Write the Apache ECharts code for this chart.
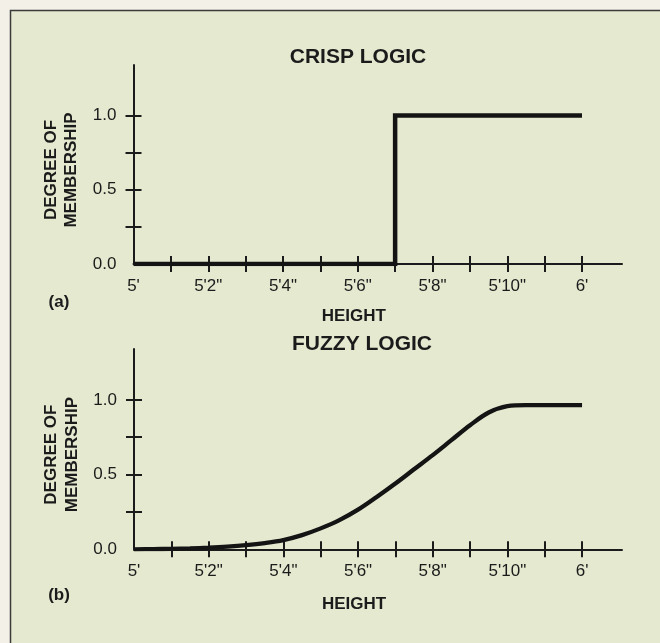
<!DOCTYPE html>
<html>
<head>
<meta charset="utf-8">
<title>Crisp vs. fuzzy membership</title>
<script src="https://cdn.jsdelivr.net/npm/echarts@6/dist/echarts.min.js"></script>
<style>
  html, body { margin: 0; padding: 0; background: #f3f0e7; }
  #chart { width: 660px; height: 643px; }
</style>
</head>
<body>
<div id="chart"></div>
<script>
// Height in inches (60 = 5 ft, 72 = 6 ft)
const heightTickValues = [61, 62, 63, 64, 65, 66, 67, 68, 69, 70, 71, 72];
const heightLabelValues = [60, 62, 64, 66, 68, 70, 72];
const heightLabels = ["5'", "5'2\"", "5'4\"", "5'6\"", "5'8\"", "5'10\"", "6'"];

// Degree of membership axis
const membershipTickValues = [0.25, 0.5, 0.75, 1.0];
const membershipLabelValues = [0, 0.5, 1.0];
const membershipLabels = ["0.0", "0.5", "1.0"];

// (a) crisp set "tall": jumps from 0 to 1 at 5'7"
const crispHeights = [60, 67, 72];
const crispValues = [0, 1, 1];

// (b) fuzzy set "tall": gradual S-shaped rise
const fuzzyHeights = [60, 60.5, 61, 61.5, 62, 62.5, 63, 63.5, 64, 64.5, 65, 65.5, 66,
                      66.5, 67, 67.5, 68, 68.5, 69, 69.5, 70, 70.5, 71, 71.5, 72];
const fuzzyValues = [0, 0.001, 0.003, 0.006, 0.011, 0.018, 0.028, 0.042, 0.062, 0.095, 0.14, 0.195, 0.265,
                     0.35, 0.44, 0.535, 0.63, 0.73, 0.83, 0.915, 0.958, 0.965, 0.965, 0.965, 0.965];

const INK = '#1b1b1b';
const FONT = '"Liberation Sans", Arial, Helvetica, sans-serif';
const X_MIN = 60, X_MAX = 73.07;
const Y_MIN = 0, Y_MAX = 1.34;

function heightLabel(v) {
  const i = heightLabelValues.indexOf(Math.round(v));
  return i >= 0 ? heightLabels[i] : '';
}
function membershipLabel(v) {
  const i = membershipLabelValues.findIndex(m => Math.abs(m - v) < 1e-6);
  return i >= 0 ? membershipLabels[i] : '';
}

// Each panel gets two x and two y axes: one carries line, outer ticks and labels,
// the other only inner ticks, so the ticks cross the axis lines.
function panelAxes(gridIndex, nameGapX) {
  const xMain = {
    type: 'value', gridIndex, position: 'bottom', min: X_MIN, max: X_MAX,
    axisLine: { show: true, onZero: false, lineStyle: { color: INK, width: 2 } },
    axisTick: { show: true, customValues: heightTickValues, length: 8, lineStyle: { color: INK, width: 2 } },
    axisLabel: { customValues: heightLabelValues, formatter: heightLabel, margin: 14,
                 color: INK, fontSize: 17, fontFamily: FONT },
    splitLine: { show: false },
    name: 'HEIGHT', nameLocation: 'middle', nameGap: nameGapX,
    nameTextStyle: { color: INK, fontSize: 17, fontWeight: 'bold', fontFamily: FONT, padding: [0, 48, 0, 0] }
  };
  const xInner = {
    type: 'value', gridIndex, position: 'bottom', min: X_MIN, max: X_MAX,
    axisLine: { show: false, onZero: false },
    axisTick: { show: true, inside: true, customValues: heightTickValues, length: 8, lineStyle: { color: INK, width: 2 } },
    axisLabel: { show: false },
    splitLine: { show: false }
  };
  const yMain = {
    type: 'value', gridIndex, position: 'left', min: Y_MIN, max: Y_MAX,
    axisLine: { show: true, onZero: false, lineStyle: { color: INK, width: 2 } },
    axisTick: { show: true, customValues: membershipTickValues, length: 8, lineStyle: { color: INK, width: 2 } },
    axisLabel: { customValues: membershipLabelValues, formatter: membershipLabel, margin: 17,
                 color: INK, fontSize: 17, fontFamily: FONT },
    splitLine: { show: false },
    name: 'DEGREE OF\nMEMBERSHIP', nameLocation: 'middle', nameRotate: 90, nameGap: 51,
    nameTextStyle: { color: INK, fontSize: 17, fontWeight: 'bold', fontFamily: FONT, lineHeight: 20.5, padding: [0, 11, 0, 0] }
  };
  const yInner = {
    type: 'value', gridIndex, position: 'left', min: Y_MIN, max: Y_MAX,
    axisLine: { show: false, onZero: false },
    axisTick: { show: true, inside: true, customValues: membershipTickValues, length: 8, lineStyle: { color: INK, width: 2 } },
    axisLabel: { show: false },
    splitLine: { show: false }
  };
  return { x: [xMain, xInner], y: [yMain, yInner] };
}

const crispAxes = panelAxes(0, 44);
const fuzzyAxes = panelAxes(1, 47);

const chart = echarts.init(document.getElementById('chart'), null, { renderer: 'canvas' });
chart.setOption({
  animation: false,
  backgroundColor: '#f3f0e7',
  graphic: [
    { type: 'rect', z: -10, shape: { x: 10.5, y: 10.5, width: 700, height: 700 },
      style: { fill: '#e4e9cf', stroke: '#3a3a38', lineWidth: 1.5 } },
    { type: 'text', x: 59, y: 302, style: { text: '(a)', fill: INK, font: 'bold 17px ' + FONT, align: 'center', verticalAlign: 'middle' } },
    { type: 'text', x: 59, y: 595, style: { text: '(b)', fill: INK, font: 'bold 17px ' + FONT, align: 'center', verticalAlign: 'middle' } }
  ],
  title: [
    { text: 'CRISP LOGIC', left: 358, top: 46.5, textAlign: 'center', padding: 0,
      textStyle: { color: INK, fontSize: 21, fontWeight: 'bold', fontFamily: FONT } },
    { text: 'FUZZY LOGIC', left: 362, top: 333.5, textAlign: 'center', padding: 0,
      textStyle: { color: INK, fontSize: 21, fontWeight: 'bold', fontFamily: FONT } }
  ],
  grid: [
    { left: 133.5, top: 65, width: 488.5, height: 199 },
    { left: 134, top: 349, width: 488, height: 200.3 }
  ],
  xAxis: crispAxes.x.concat(fuzzyAxes.x),
  yAxis: crispAxes.y.concat(fuzzyAxes.y),
  series: [
    {
      name: 'Crisp', type: 'line', xAxisIndex: 0, yAxisIndex: 0, step: 'end',
      data: crispHeights.map((h, i) => [h, crispValues[i]]),
      showSymbol: false, symbol: 'none', z: 5,
      lineStyle: { color: '#141414', width: 4.5, cap: 'butt', join: 'miter' }
    },
    {
      name: 'Fuzzy', type: 'line', xAxisIndex: 2, yAxisIndex: 2,
      smooth: 0.35,
      data: fuzzyHeights.map((h, i) => [h, fuzzyValues[i]]),
      showSymbol: false, symbol: 'none', z: 5,
      lineStyle: { color: '#141414', width: 4.3, cap: 'butt' }
    }
  ]
});
</script>
</body>
</html>
